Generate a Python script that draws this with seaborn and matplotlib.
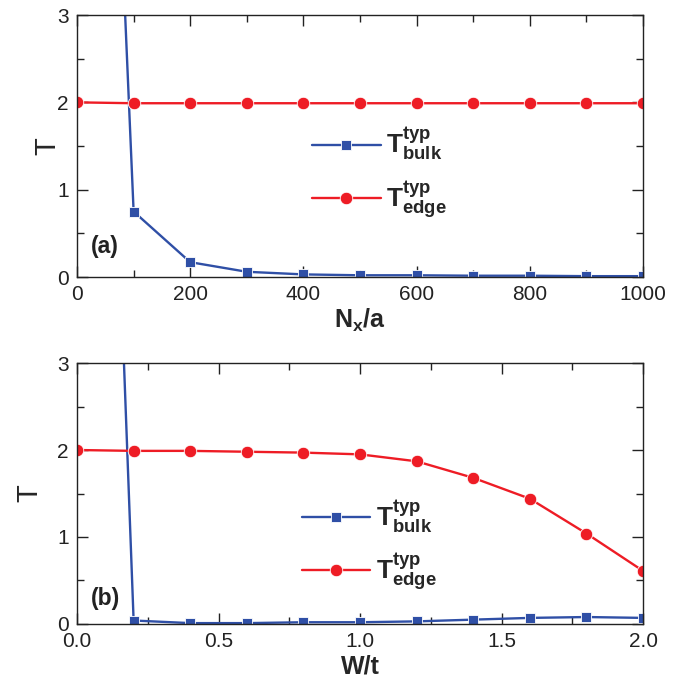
import numpy as np
import pandas as pd
import seaborn as sns
import matplotlib.pyplot as plt
from matplotlib.ticker import MultipleLocator

# panel (a): system length
nx = [0, 100, 200, 300, 400, 500, 600, 700, 800, 900, 1000]
bulk_a = [15.8, 0.75, 0.17, 0.06, 0.03, 0.02, 0.02, 0.015, 0.015, 0.01, 0.01]
edge_a = [2.0, 1.99, 1.99, 1.99, 1.99, 1.99, 1.99, 1.99, 1.99, 1.99, 1.99]

# panel (b): disorder strength
wt = [0.0, 0.2, 0.4, 0.6, 0.8, 1.0, 1.2, 1.4, 1.6, 1.8, 2.0]
bulk_b = [17.4, 0.04, 0.01, 0.01, 0.02, 0.02, 0.03, 0.05, 0.07, 0.08, 0.07]
edge_b = [2.0, 1.99, 1.99, 1.98, 1.97, 1.95, 1.87, 1.68, 1.44, 1.04, 0.61]

lab_bulk = r'$\mathbf{T^{typ}_{bulk}}$'
lab_edge = r'$\mathbf{T^{typ}_{edge}}$'

sns.set_theme(style="ticks")
plt.rcParams['font.family'] = ['Liberation Sans', 'DejaVu Sans']
plt.rcParams['mathtext.fontset'] = 'custom'
plt.rcParams['mathtext.rm'] = 'Liberation Sans'
plt.rcParams['mathtext.bf'] = 'Liberation Sans:bold'
plt.rcParams['mathtext.it'] = 'Liberation Sans:italic'

blue = '#2f4fa6'
red = '#ee1c25'


def make_df(x, bulk, edge):
    return pd.DataFrame({
        'x': list(x) + list(x),
        'T': list(bulk) + list(edge),
        'series': [lab_bulk] * len(x) + [lab_edge] * len(x),
    })


fig = plt.figure(figsize=(6.9, 6.83), dpi=100)
ax1 = fig.add_axes([0.1116, 0.5944, 0.8204, 0.3836])
ax2 = fig.add_axes([0.1116, 0.0864, 0.8204, 0.3821])

panels = [
    (ax1, make_df(nx, bulk_a, edge_a), (0, 1000), 200, 100, r'$\mathbf{N_x/a}$', '(a)',
     0.092, (0.373, 0.395), -0.028),
    (ax2, make_df(wt, bulk_b, edge_b), (0, 2.0), 0.5, 0.25, 'W/t', '(b)',
     0.073, (0.355, 0.30), -0.06),
]

for ax, df, xlim, major, minor, xlabel, tag, tag_y, legpos, ylx in panels:
    sns.lineplot(data=df, x='x', y='T', hue='series', style='series',
                 markers={lab_bulk: 's', lab_edge: 'o'}, dashes=False,
                 palette={lab_bulk: blue, lab_edge: red}, ax=ax,
                 linewidth=1.7, markeredgewidth=0.6, markeredgecolor='white')
    for ln in ax.lines:
        if ln.get_marker() == 'o':
            ln.set_markersize(9)
        else:
            ln.set_markersize(7)
    ax.set_xlim(*xlim)
    ax.set_ylim(0, 3)
    ax.xaxis.set_major_locator(MultipleLocator(major))
    ax.xaxis.set_minor_locator(MultipleLocator(minor))
    ax.yaxis.set_major_locator(MultipleLocator(1))
    ax.yaxis.set_minor_locator(MultipleLocator(0.5))
    ax.tick_params(which='both', direction='in', top=True, right=True,
                   labelsize=15, pad=6, colors='#222222')
    ax.tick_params(which='major', length=8, width=1)
    ax.tick_params(which='minor', length=5, width=1)
    ax.set_xlabel(xlabel, fontsize=18, fontweight='bold', labelpad=2)
    ax.set_ylabel('T', fontsize=21)
    ax.yaxis.set_label_coords(ylx, 0.5)
    for sp in ax.spines.values():
        sp.set_linewidth(1)
        sp.set_color('#222222')
    ax.text(0.025, tag_y, tag, transform=ax.transAxes, fontsize=16.5,
            fontweight='bold', color='#222222')
    leg = ax.legend(loc='center left', bbox_to_anchor=legpos, frameon=False,
                    fontsize=19, handlelength=2.6, handletextpad=0.2,
                    labelspacing=0.6)
    for h in leg.legend_handles:
        h.set_linewidth(1.7)

fig.savefig('out.png', dpi=100)
